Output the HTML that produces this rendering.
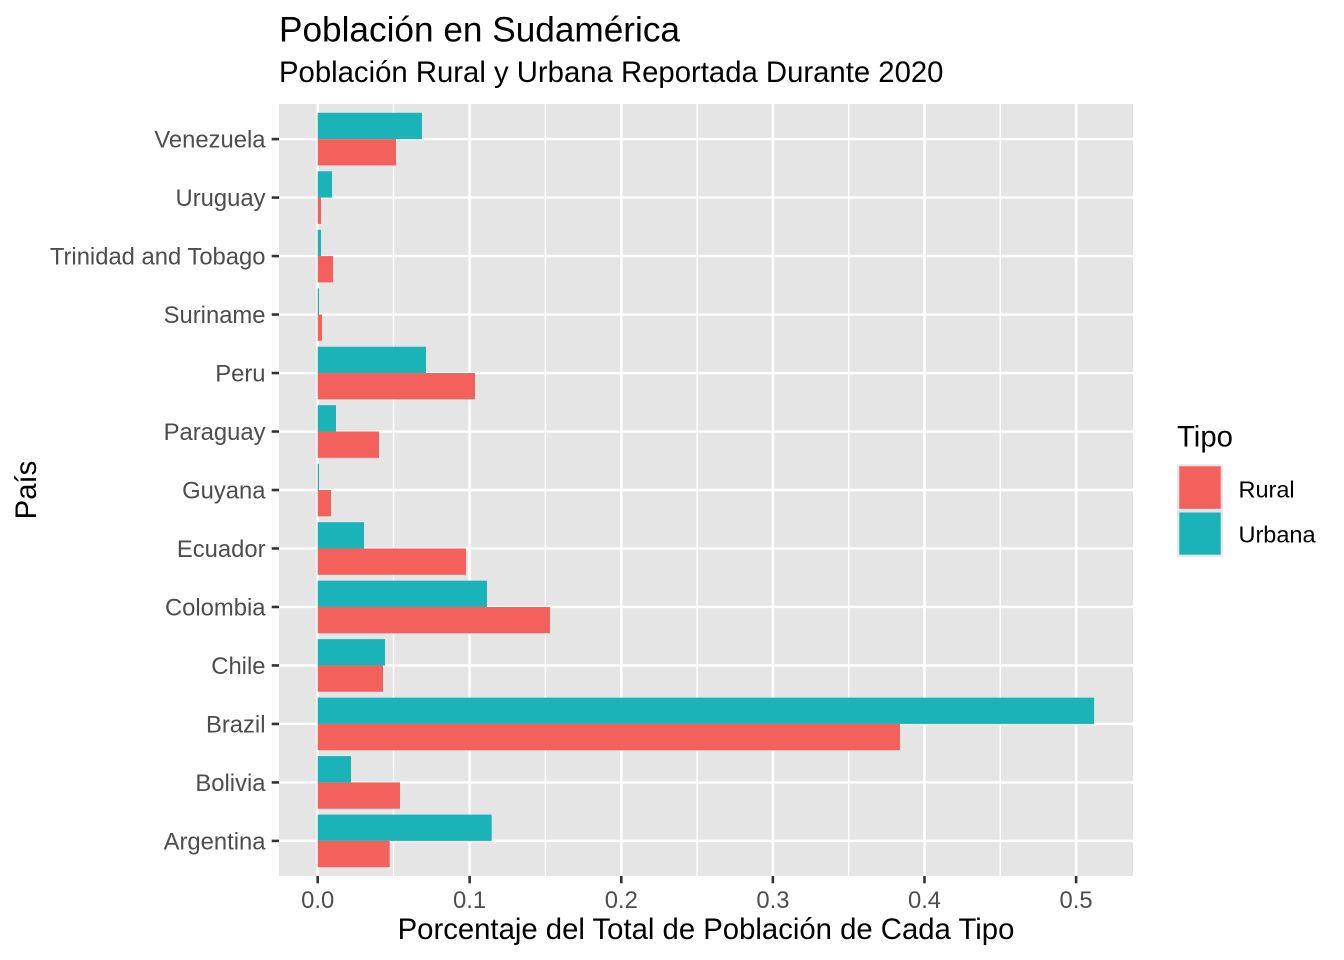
<!DOCTYPE html>
<html>
<head>
<meta charset="utf-8">
<style>
  html, body { margin:0; padding:0; background:#ffffff; }
  svg { display:block; }
  text { font-family: "Liberation Sans", Arial, sans-serif; }
</style>
</head>
<body>
<svg width="1344" height="960" viewBox="0 0 1344 960" xmlns="http://www.w3.org/2000/svg">
  <rect x="0" y="0" width="1344" height="960" fill="#ffffff"/>

  <!-- titles -->
  <text x="279" y="41.5" font-size="35.2" fill="#000000">Población en Sudamérica</text>
  <text x="279" y="82" font-size="29.3" fill="#000000">Población Rural y Urbana Reportada Durante 2020</text>

  <!-- panel -->
  <rect x="279" y="104" width="854" height="772" fill="#E5E5E5"/>

  <!-- minor vertical gridlines -->
  <g stroke="#ffffff" stroke-width="1.4">
    <line x1="393.5" y1="104" x2="393.5" y2="876"/>
    <line x1="545.4" y1="104" x2="545.4" y2="876"/>
    <line x1="697.1" y1="104" x2="697.1" y2="876"/>
    <line x1="848.7" y1="104" x2="848.7" y2="876"/>
    <line x1="1000.3" y1="104" x2="1000.3" y2="876"/>
  </g>
  <!-- major vertical gridlines -->
  <g stroke="#ffffff" stroke-width="2.6">
    <line x1="317.7" y1="104" x2="317.7" y2="876"/>
    <line x1="469.6" y1="104" x2="469.6" y2="876"/>
    <line x1="621.3" y1="104" x2="621.3" y2="876"/>
    <line x1="772.9" y1="104" x2="772.9" y2="876"/>
    <line x1="924.5" y1="104" x2="924.5" y2="876"/>
    <line x1="1076.1" y1="104" x2="1076.1" y2="876"/>
  </g>
  <!-- horizontal gridlines -->
  <g stroke="#ffffff" stroke-width="2.4">
    <line x1="279" y1="840.91" x2="1133" y2="840.91"/>
    <line x1="279" y1="782.42" x2="1133" y2="782.42"/>
    <line x1="279" y1="723.94" x2="1133" y2="723.94"/>
    <line x1="279" y1="665.45" x2="1133" y2="665.45"/>
    <line x1="279" y1="606.97" x2="1133" y2="606.97"/>
    <line x1="279" y1="548.48" x2="1133" y2="548.48"/>
    <line x1="279" y1="490.00" x2="1133" y2="490.00"/>
    <line x1="279" y1="431.52" x2="1133" y2="431.52"/>
    <line x1="279" y1="373.03" x2="1133" y2="373.03"/>
    <line x1="279" y1="314.55" x2="1133" y2="314.55"/>
    <line x1="279" y1="256.06" x2="1133" y2="256.06"/>
    <line x1="279" y1="197.58" x2="1133" y2="197.58"/>
    <line x1="279" y1="139.09" x2="1133" y2="139.09"/>
  </g>

  <!-- bars: Urbana (teal, upper), Rural (red, lower) -->
  <g fill="#1AB4B8">
    <rect x="317.7" y="814.59" width="174" height="26.32"/>
    <rect x="317.7" y="756.10" width="33.3" height="26.32"/>
    <rect x="317.7" y="697.62" width="776.4" height="26.32"/>
    <rect x="317.7" y="639.13" width="67.3" height="26.32"/>
    <rect x="317.7" y="580.65" width="169.3" height="26.32"/>
    <rect x="317.7" y="522.16" width="46.3" height="26.32"/>
    <rect x="317.7" y="463.68" width="1.3" height="26.32"/>
    <rect x="317.7" y="405.20" width="18.3" height="26.32"/>
    <rect x="317.7" y="346.71" width="108.3" height="26.32"/>
    <rect x="317.7" y="288.23" width="1.3" height="26.32"/>
    <rect x="317.7" y="229.74" width="3.3" height="26.32"/>
    <rect x="317.7" y="171.26" width="14.3" height="26.32"/>
    <rect x="317.7" y="112.77" width="104.3" height="26.32"/>
  </g>
  <g fill="#F4615C">
    <rect x="317.7" y="840.91" width="72" height="26.32"/>
    <rect x="317.7" y="782.42" width="82.3" height="26.32"/>
    <rect x="317.7" y="723.94" width="582.3" height="26.32"/>
    <rect x="317.7" y="665.45" width="65.3" height="26.32"/>
    <rect x="317.7" y="606.97" width="232.3" height="26.32"/>
    <rect x="317.7" y="548.48" width="148.3" height="26.32"/>
    <rect x="317.7" y="490.00" width="13.3" height="26.32"/>
    <rect x="317.7" y="431.52" width="61.3" height="26.32"/>
    <rect x="317.7" y="373.03" width="157.3" height="26.32"/>
    <rect x="317.7" y="314.55" width="4.3" height="26.32"/>
    <rect x="317.7" y="256.06" width="15.3" height="26.32"/>
    <rect x="317.7" y="197.58" width="3.3" height="26.32"/>
    <rect x="317.7" y="139.09" width="78.3" height="26.32"/>
  </g>

  <!-- y ticks -->
  <g stroke="#333333" stroke-width="2.6">
    <line x1="271.7" y1="840.91" x2="279" y2="840.91"/>
    <line x1="271.7" y1="782.42" x2="279" y2="782.42"/>
    <line x1="271.7" y1="723.94" x2="279" y2="723.94"/>
    <line x1="271.7" y1="665.45" x2="279" y2="665.45"/>
    <line x1="271.7" y1="606.97" x2="279" y2="606.97"/>
    <line x1="271.7" y1="548.48" x2="279" y2="548.48"/>
    <line x1="271.7" y1="490.00" x2="279" y2="490.00"/>
    <line x1="271.7" y1="431.52" x2="279" y2="431.52"/>
    <line x1="271.7" y1="373.03" x2="279" y2="373.03"/>
    <line x1="271.7" y1="314.55" x2="279" y2="314.55"/>
    <line x1="271.7" y1="256.06" x2="279" y2="256.06"/>
    <line x1="271.7" y1="197.58" x2="279" y2="197.58"/>
    <line x1="271.7" y1="139.09" x2="279" y2="139.09"/>
  </g>
  <!-- x ticks -->
  <g stroke="#333333" stroke-width="2.6">
    <line x1="317.7" y1="876" x2="317.7" y2="883.3"/>
    <line x1="469.6" y1="876" x2="469.6" y2="883.3"/>
    <line x1="621.3" y1="876" x2="621.3" y2="883.3"/>
    <line x1="772.9" y1="876" x2="772.9" y2="883.3"/>
    <line x1="924.5" y1="876" x2="924.5" y2="883.3"/>
    <line x1="1076.1" y1="876" x2="1076.1" y2="883.3"/>
  </g>

  <!-- y tick labels -->
  <g font-size="23.8" fill="#4D4D4D" text-anchor="end">
    <text x="265.5" y="849.4">Argentina</text>
    <text x="265.5" y="790.9">Bolivia</text>
    <text x="265.5" y="732.4">Brazil</text>
    <text x="265.5" y="673.9">Chile</text>
    <text x="265.5" y="615.5">Colombia</text>
    <text x="265.5" y="557.0">Ecuador</text>
    <text x="265.5" y="498.5">Guyana</text>
    <text x="265.5" y="440.0">Paraguay</text>
    <text x="265.5" y="381.5">Peru</text>
    <text x="265.5" y="323.0">Suriname</text>
    <text x="265.5" y="264.5">Trinidad and Tobago</text>
    <text x="265.5" y="206.1">Uruguay</text>
    <text x="265.5" y="147.6">Venezuela</text>
  </g>

  <!-- x tick labels -->
  <g font-size="23.8" fill="#4D4D4D" text-anchor="middle">
    <text x="317.7" y="908">0.0</text>
    <text x="469.6" y="908">0.1</text>
    <text x="621.3" y="908">0.2</text>
    <text x="772.9" y="908">0.3</text>
    <text x="924.5" y="908">0.4</text>
    <text x="1076.1" y="908">0.5</text>
  </g>

  <!-- axis titles -->
  <text x="706" y="939" font-size="29.3" fill="#000000" text-anchor="middle">Porcentaje del Total de Población de Cada Tipo</text>
  <text x="0" y="0" font-size="29.3" fill="#000000" text-anchor="middle" transform="translate(36,490) rotate(-90)">País</text>

  <!-- legend -->
  <text x="1177" y="446.7" font-size="29.3" fill="#000000">Tipo</text>
  <rect x="1177.3" y="464.3" width="45.4" height="92.4" fill="#E5E5E5"/>
  <rect x="1179.3" y="466.3" width="41.4" height="42.5" fill="#F4615C"/>
  <rect x="1179.3" y="512.5" width="41.4" height="42.2" fill="#1AB4B8"/>
  <text x="1238.5" y="497.3" font-size="23.5" fill="#000000">Rural</text>
  <text x="1238.5" y="542.3" font-size="23.5" fill="#000000">Urbana</text>
</svg>
</body>
</html>
